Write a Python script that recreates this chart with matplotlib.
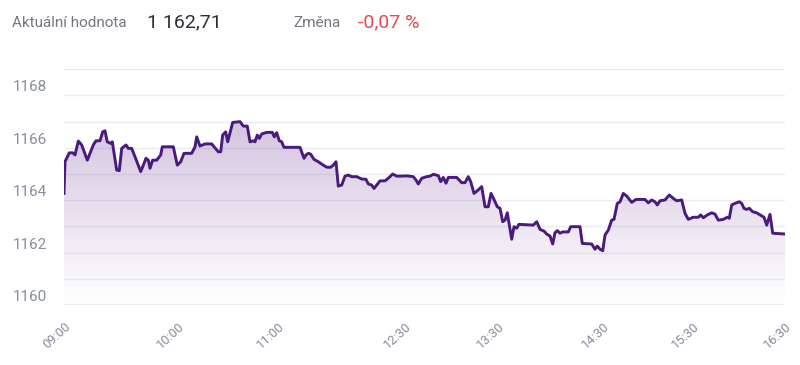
import numpy as np
import matplotlib
matplotlib.use("Agg")
import matplotlib.pyplot as plt
from matplotlib.transforms import offset_copy

plt.rcParams['font.family'] = ['Roboto', 'DejaVu Sans']

# position along the session axis (0 = 09:00 tick, 721 = 16:30 tick)
x_pos = [0, 1, 5.3, 8.7, 11, 14.3, 17.7, 23.3, 29.3, 32, 36, 38.7, 41, 43.3, 46.7, 48.3,
         52.7, 55.3, 57.7, 62, 64.3, 67.7, 71, 76.7, 82, 84.3, 86, 88.7, 92.7, 96.7, 98.3,
         109.3, 113.3, 116.7, 120, 127.7, 131, 132.7, 136, 141, 147.7, 154.3, 156.7, 158.7,
         161.7, 163.7, 166.7, 168.7, 176, 179.3, 183.3, 186, 189.3, 191, 193.3, 195.3, 197.7,
         202.7, 208.3, 210.3, 212.7, 215.3, 217.7, 220, 236, 240, 242, 244.3, 246.7, 250,
         254.3, 257.7, 262.7, 266.7, 269.3, 272, 274.3, 277.7, 281, 284.3, 287.7, 292.7,
         297.7, 302, 304.3, 307.7, 310, 312.7, 316, 321, 324.3, 328.7, 332.7, 336, 342.7,
         349.3, 352, 354.3, 357.7, 362.7, 366, 369.3, 374.3, 376.7, 379.3, 382, 384.3, 392.7,
         397.7, 401, 404.3, 406.7, 410, 413.3, 417.7, 421, 424.3, 427, 430, 433.3, 436, 438.7,
         441, 443.3, 445.3, 447.7, 450, 452.7, 455, 469.3, 472.7, 476, 480, 482.7, 486, 488.7,
         491, 493.3, 496, 498.7, 504.3, 506.7, 516, 518.3, 527.7, 531, 533.3, 536, 538.7, 541,
         544.3, 547.7, 550, 553.3, 556, 559.3, 562.7, 567.7, 572, 581, 584.3, 587.7, 591,
         593.3, 596, 601, 605.3, 609.3, 612.7, 617.7, 621, 624.3, 629.3, 634.3, 636.7, 639.3,
         643.3, 647.7, 651, 654.3, 659.3, 663.3, 665.3, 667.7, 671, 675.3, 677.7, 680, 682.7,
         685.3, 688.7, 692.7, 696, 700, 702.7, 706, 708.7, 721]

values = [1164.26, 1165.47, 1165.81, 1165.81, 1165.73, 1166.26, 1166.11, 1165.53, 1166.11,
          1166.27, 1166.27, 1166.61, 1166.65, 1166.23, 1166.17, 1166.23, 1165.15, 1165.13,
          1165.98, 1166.11, 1165.98, 1165.98, 1165.66, 1165.09, 1165.60, 1165.53, 1165.22,
          1165.53, 1165.53, 1165.73, 1166.04, 1166.04, 1165.34, 1165.47, 1165.79, 1165.79,
          1166.04, 1166.42, 1166.07, 1166.15, 1166.15, 1165.85, 1165.85, 1166.49, 1166.61,
          1166.23, 1166.68, 1166.97, 1167.00, 1166.83, 1166.83, 1166.23, 1166.27, 1166.23,
          1166.49, 1166.36, 1166.53, 1166.59, 1166.59, 1166.42, 1166.58, 1166.27, 1166.23,
          1166.02, 1166.02, 1165.60, 1165.73, 1165.79, 1165.76, 1165.56, 1165.47, 1165.38,
          1165.26, 1165.26, 1165.34, 1165.47, 1164.54, 1164.58, 1164.92, 1164.96, 1164.90,
          1164.90, 1164.81, 1164.80, 1164.62, 1164.58, 1164.45, 1164.58, 1164.74, 1164.74,
          1164.84, 1165.00, 1164.92, 1164.92, 1164.93, 1164.90, 1164.77, 1164.62, 1164.84,
          1164.90, 1164.92, 1164.99, 1164.94, 1164.71, 1164.87, 1164.65, 1164.87, 1164.87,
          1164.67, 1164.67, 1164.90, 1164.71, 1164.26, 1164.36, 1164.52, 1163.75, 1163.75,
          1164.26, 1164.03, 1163.75, 1163.69, 1163.18, 1163.24, 1163.52, 1163.05, 1162.51,
          1162.99, 1162.93, 1163.08, 1163.05, 1163.18, 1162.89, 1162.82, 1162.71, 1162.63,
          1162.33, 1162.76, 1162.84, 1162.74, 1162.79, 1162.79, 1162.99, 1162.99, 1162.35,
          1162.33, 1162.13, 1162.25, 1162.13, 1162.07, 1162.67, 1162.86, 1163.24, 1163.27,
          1163.88, 1163.94, 1164.26, 1164.16, 1163.92, 1164.03, 1164.03, 1163.90, 1164.01,
          1163.94, 1163.82, 1163.98, 1164.01, 1164.20, 1164.07, 1163.98, 1164.01, 1163.50,
          1163.27, 1163.35, 1163.35, 1163.44, 1163.33, 1163.44, 1163.52, 1163.47, 1163.24,
          1163.27, 1163.35, 1163.31, 1163.82, 1163.88, 1163.94, 1163.88, 1163.69, 1163.65,
          1163.69, 1163.56, 1163.52, 1163.44, 1163.35, 1163.05, 1163.46, 1162.74, 1162.71]

tick_pos = [0, 114, 214, 341, 434, 539, 629, 721]
tick_labels = ['09:00', '10:00', '11:00', '12:30', '13:30', '14:30', '15:30', '16:30']
y_labels = [1160, 1162, 1164, 1166, 1168]

current_value = "1 162,71"
change = "-0,07 %"

fig = plt.figure(figsize=(8, 3.65), dpi=100)
ax = fig.add_axes([0.08, 0.1644, 0.90125, 0.6458])

# gridlines
for v in range(1160, 1170):
    ax.axhline(v, color='#ebebf1', lw=1.6 if v == 1160 else 1.0, zorder=0)

# gradient fill under the line
poly = ax.fill_between(x_pos, values, 1160, color='none', lw=0)
top = max(values)
grad = np.zeros((256, 1, 4))
grad[:, 0, 0] = 0.50
grad[:, 0, 1] = 0.32
grad[:, 0, 2] = 0.63
grad[:, 0, 3] = np.linspace(0.34, 0.0, 256)
img = ax.imshow(grad, extent=[0, 721, 1160, top], aspect='auto', origin='upper', zorder=1)
img.set_clip_path(poly.get_paths()[0], transform=ax.transData)

ax.plot(x_pos, values, color='#4a1a7c', lw=2.1, solid_joinstyle='round', zorder=3)

ax.set_xlim(0, 721)
ax.set_ylim(1160, 1169)
for s in ax.spines.values():
    s.set_visible(False)

ax.set_yticks([])
trans = offset_copy(ax.get_yaxis_transform(), fig=fig, x=-17, y=8, units='dots')
for v in y_labels:
    ax.text(0, v, str(v), transform=trans, ha='right', va='center',
            fontsize=11, color='#878d9c')

ax.set_xticks(tick_pos)
ax.set_xticklabels(tick_labels, rotation=42, ha='right', rotation_mode='anchor',
                   fontsize=9.3, color='#878d9c')
ax.tick_params(axis='x', length=0, pad=11)

# header
fig.text(12 / 800, 0.925, "Aktuální hodnota", fontsize=11, color='#737782', va='baseline')
fig.text(147 / 800, 0.925, current_value, fontsize=14, color='#2d2d35', va='baseline')
fig.text(293 / 800, 0.925, "Změna", fontsize=11, color='#737782', va='baseline')
fig.text(358 / 800, 0.925, change, fontsize=14, color='#e5484d', va='baseline')

fig.savefig("out.png", dpi=100, facecolor='white')
